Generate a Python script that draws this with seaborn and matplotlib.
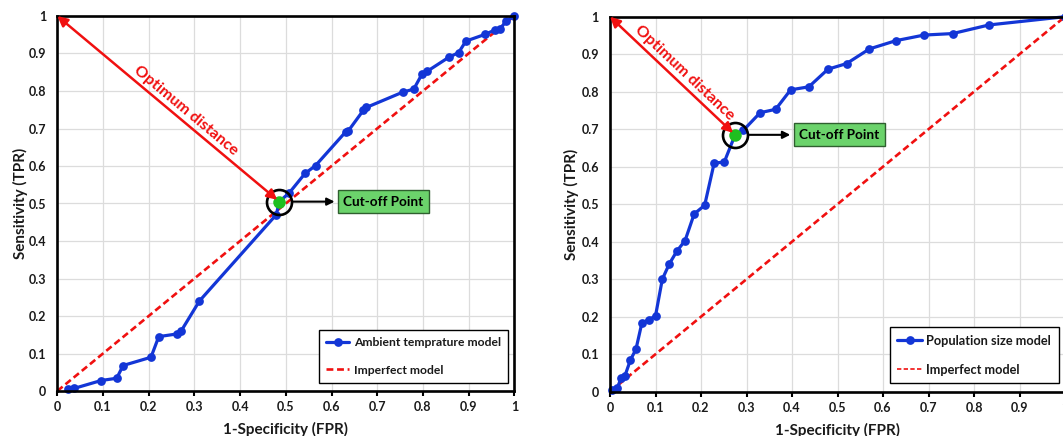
import math
import numpy as np
import pandas as pd
import matplotlib
matplotlib.use("Agg")
import matplotlib.pyplot as plt
import seaborn as sns

# ROC points: ambient temperature model
temp_fpr = [0.023, 0.037, 0.096, 0.130, 0.144, 0.205, 0.222, 0.261, 0.271, 0.311,
            0.479, 0.486, 0.508, 0.542, 0.565, 0.631, 0.637, 0.670, 0.676, 0.756,
            0.780, 0.798, 0.810, 0.858, 0.878, 0.894, 0.936, 0.958, 0.969, 0.982, 1.0]
temp_tpr = [0.005, 0.007, 0.028, 0.034, 0.068, 0.090, 0.145, 0.152, 0.160, 0.240,
            0.470, 0.505, 0.529, 0.580, 0.601, 0.691, 0.694, 0.749, 0.756, 0.797,
            0.805, 0.845, 0.853, 0.891, 0.902, 0.933, 0.951, 0.963, 0.965, 0.987, 1.0]
temp_cutoff = (0.486, 0.505)

# ROC points: population size model
pop_fpr = [0.004, 0.016, 0.024, 0.033, 0.045, 0.057, 0.070, 0.085, 0.100, 0.115,
           0.130, 0.147, 0.165, 0.185, 0.208, 0.229, 0.251, 0.275, 0.293, 0.330,
           0.364, 0.397, 0.437, 0.479, 0.520, 0.570, 0.628, 0.690, 0.753, 0.833, 1.0]
pop_tpr = [0.005, 0.009, 0.036, 0.043, 0.085, 0.113, 0.183, 0.192, 0.202, 0.300,
           0.340, 0.375, 0.403, 0.474, 0.497, 0.610, 0.612, 0.685, 0.697, 0.744,
           0.753, 0.805, 0.813, 0.860, 0.875, 0.914, 0.936, 0.951, 0.955, 0.978, 1.0]
pop_cutoff = (0.275, 0.685)

# Reference line of a no-skill classifier
chance = [0.0, 1.0]

ticks = [0, 0.1, 0.2, 0.3, 0.4, 0.5, 0.6, 0.7, 0.8, 0.9, 1.0]
tick_labels = ["0", "0.1", "0.2", "0.3", "0.4", "0.5", "0.6", "0.7", "0.8", "0.9", "1"]

BLUE = "#1336d6"
RED = "#f01010"
GREEN = "#1fbf1f"
INK = "#1a1a1a"

sns.set_theme(style="whitegrid")
plt.rcParams["font.family"] = ["Lato", "DejaVu Sans"]
plt.rcParams["font.weight"] = "bold"
plt.rcParams["axes.labelweight"] = "bold"

fig = plt.figure(figsize=(10.63, 4.36), dpi=100)
ax1 = fig.add_axes([57.3 / 1063, 45 / 436, 457 / 1063, 375 / 436])
ax2 = fig.add_axes([610 / 1063, 44.3 / 436, 455 / 1063, 375 / 436])


def draw_panel(ax, fpr, tpr, cutoff, label, text_t, ylab_x, legend_dash_lw, legend_size):
    df = pd.DataFrame({"FPR": fpr, "TPR": tpr})
    ref = pd.DataFrame({"FPR": chance, "TPR": chance})
    sns.lineplot(data=df, x="FPR", y="TPR", ax=ax, color=BLUE, lw=2.3,
                 marker="o", markersize=6.3, markeredgewidth=0, sort=False,
                 label=label, zorder=4, clip_on=False)
    sns.lineplot(data=ref, x="FPR", y="TPR", ax=ax, color=RED, lw=1.9,
                 linestyle=(0, (2.6, 1.4)), label="Imperfect model", zorder=3)

    ax.set_xlim(0, 1)
    ax.set_ylim(0, 1)
    ax.set_xticks(ticks)
    ax.set_yticks(ticks)
    ax.set_xticklabels(tick_labels)
    ax.set_yticklabels(tick_labels)
    ax.tick_params(axis="x", which="major", labelsize=9, length=3.5,
                   width=1.5, color="black", pad=4, direction="out", bottom=True)
    ax.tick_params(axis="y", which="major", labelsize=9, length=0, pad=8, left=True)
    for t in ax.get_xticklabels() + ax.get_yticklabels():
        t.set_fontweight("bold")
        t.set_color(INK)
    ax.grid(True, color="#dcdcdc", lw=0.9)
    ax.set_axisbelow(True)
    for s in ax.spines.values():
        s.set_visible(True)
        s.set_color("black")
        s.set_linewidth(1.9)
        s.set_zorder(5)

    ax.set_xlabel("1-Specificity (FPR)", fontsize=11, fontweight="bold", color=INK)
    ax.set_ylabel("Sensitivity (TPR)", fontsize=11, fontweight="bold", color=INK)
    ax.xaxis.set_label_coords(0.5, -0.082)
    ax.yaxis.set_label_coords(ylab_x, 0.5)

    # Cut-off point marker and its ring
    ax.plot([cutoff[0]], [cutoff[1]], "o", color=GREEN, markersize=9,
            markeredgewidth=0, zorder=6)
    ax.plot([cutoff[0]], [cutoff[1]], "o", markerfacecolor="none",
            markeredgecolor="black", markersize=18, markeredgewidth=1.9, zorder=7)

    # Distance from the ideal corner (0, 1) to the cut-off point
    ax.annotate("", xy=cutoff, xytext=(0, 1), xycoords="data",
                arrowprops=dict(arrowstyle="<|-|>", color=RED, lw=1.8,
                                mutation_scale=15, shrinkA=0, shrinkB=2),
                zorder=8, annotation_clip=False)
    p0 = ax.transData.transform((0, 1))
    p1 = ax.transData.transform(cutoff)
    d = p1 - p0
    length = np.hypot(*d)
    u = d / length
    normal = np.array([-u[1], u[0]])
    if normal[1] < 0:
        normal = -normal
    pos = p0 + d * text_t + normal * 10
    tx, ty = ax.transData.inverted().transform(pos)
    angle = math.degrees(math.atan2(d[1], d[0]))
    ax.text(tx, ty, "Optimum distance", color=RED, fontsize=11.5, fontweight="bold",
            rotation=angle, rotation_mode="anchor", ha="center", va="center", zorder=8)

    # Label box for the cut-off point
    ax.annotate("Cut-off Point", xy=cutoff, xycoords="data",
                xytext=(46, 0), textcoords="offset points",
                ha="left", va="center", fontsize=9.8, fontweight="bold", color="black",
                bbox=dict(boxstyle="square,pad=0.4", fc="#6bd36b", ec="#2f5f2f", lw=1),
                arrowprops=dict(arrowstyle="<|-", color="black", lw=1.5,
                                mutation_scale=11, shrinkA=2, shrinkB=9.5),
                zorder=9)

    leg = ax.legend(loc="lower right", bbox_to_anchor=(0.986, 0.022),
                    borderaxespad=0, fontsize=legend_size, frameon=True, fancybox=False,
                    framealpha=1, edgecolor="black", labelspacing=1.35,
                    handlelength=1.9, handletextpad=0.35, borderpad=0.6)
    leg.get_frame().set_linewidth(1.0)
    for t in leg.get_texts():
        t.set_fontweight("bold")
        t.set_color(INK)
    leg.get_lines()[1].set_linewidth(legend_dash_lw)
    leg.set_zorder(10)


draw_panel(ax1, temp_fpr, temp_tpr, temp_cutoff, "Ambient temprature model",
           0.55, -0.064, 1.9, 8.7)
draw_panel(ax2, pop_fpr, pop_tpr, pop_cutoff, "Population size model",
           0.54, -0.068, 1.2, 9.2)

fig.savefig("out.png", dpi=100)
